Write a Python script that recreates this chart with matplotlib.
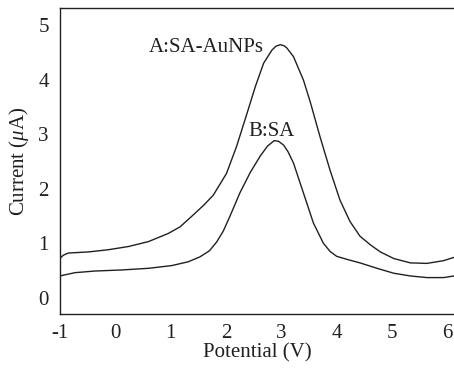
import numpy as np
import matplotlib.pyplot as plt

plt.rcParams['font.family'] = ['Liberation Serif', 'DejaVu Serif']
plt.rcParams['mathtext.fontset'] = 'custom'
plt.rcParams['mathtext.it'] = 'Liberation Serif:italic'
plt.rcParams['mathtext.rm'] = 'Liberation Serif'

ink = '#231f20'

# curve A: SA-AuNPs, potential (V) vs current (uA)
pot_a = [-1.0, -0.94, -0.85, -0.49, -0.13, 0.24, 0.60, 0.96, 1.17, 1.41, 1.60, 1.77,
         2.01, 2.19, 2.38, 2.53, 2.68, 2.83, 2.90, 2.98, 3.05, 3.10, 3.22, 3.40, 3.52,
         3.70, 3.88, 4.06, 4.24, 4.42, 4.61, 4.79, 5.03, 5.33, 5.63, 5.93, 6.12]
cur_a = [0.72, 0.78, 0.82, 0.84, 0.88, 0.94, 1.03, 1.18, 1.30, 1.52, 1.70, 1.88,
         2.28, 2.77, 3.38, 3.87, 4.30, 4.54, 4.61, 4.64, 4.62, 4.58, 4.42, 3.99, 3.60,
         2.95, 2.34, 1.79, 1.40, 1.13, 0.97, 0.84, 0.72, 0.64, 0.63, 0.68, 0.74]

# curve B: SA
pot_b = [-1.0, -0.73, -0.37, 0.12, 0.60, 1.02, 1.32, 1.53, 1.70, 1.83, 1.95, 2.07,
         2.25, 2.44, 2.62, 2.75, 2.87, 2.95, 3.04, 3.12, 3.22, 3.40, 3.58, 3.76, 3.88,
         4.00, 4.20, 4.42, 4.73, 5.03, 5.33, 5.63, 5.93, 6.12]
cur_b = [0.40, 0.46, 0.49, 0.51, 0.54, 0.59, 0.66, 0.75, 0.86, 1.02, 1.22, 1.49,
         1.92, 2.30, 2.60, 2.78, 2.88, 2.87, 2.80, 2.68, 2.47, 1.92, 1.37, 1.00, 0.85,
         0.76, 0.70, 0.64, 0.54, 0.45, 0.40, 0.37, 0.37, 0.40]

fig = plt.figure(figsize=(4.54, 3.70), dpi=100)
ax = fig.add_axes([0.132, 0.151, 0.868, 0.827])

ax.plot(pot_a, cur_a, color=ink, lw=1.0)
ax.plot(pot_b, cur_b, color=ink, lw=1.0)

ax.text(2.69, 4.58, 'A:SA-AuNPs', fontsize=15, ha='right', va='center', color=ink)
ax.text(2.83, 3.05, 'B:SA', fontsize=15, ha='center', va='center', color=ink)

ax.set_xlim(-1, 6.12)
ax.set_ylim(-0.3, 5.31)
ax.set_xticks(range(-1, 7))
ax.set_xticklabels(['-1', '0', '1', '2', '3', '4', '5', '6'])
ax.set_yticks(range(0, 6))
ax.tick_params(length=0, labelsize=15, labelcolor=ink)
ax.tick_params(axis='x', pad=7)
ax.tick_params(axis='y', pad=8)
ax.spines['right'].set_visible(False)
for s in ['left', 'bottom', 'top']:
    ax.spines[s].set_linewidth(1.0)
    ax.spines[s].set_color(ink)

ax.set_xlabel('Potential (V)', fontsize=15, labelpad=0, color=ink)
ax.set_ylabel(r'Current ($\mu$A)', fontsize=15, labelpad=5, color=ink)

fig.savefig('out.png', dpi=100)
